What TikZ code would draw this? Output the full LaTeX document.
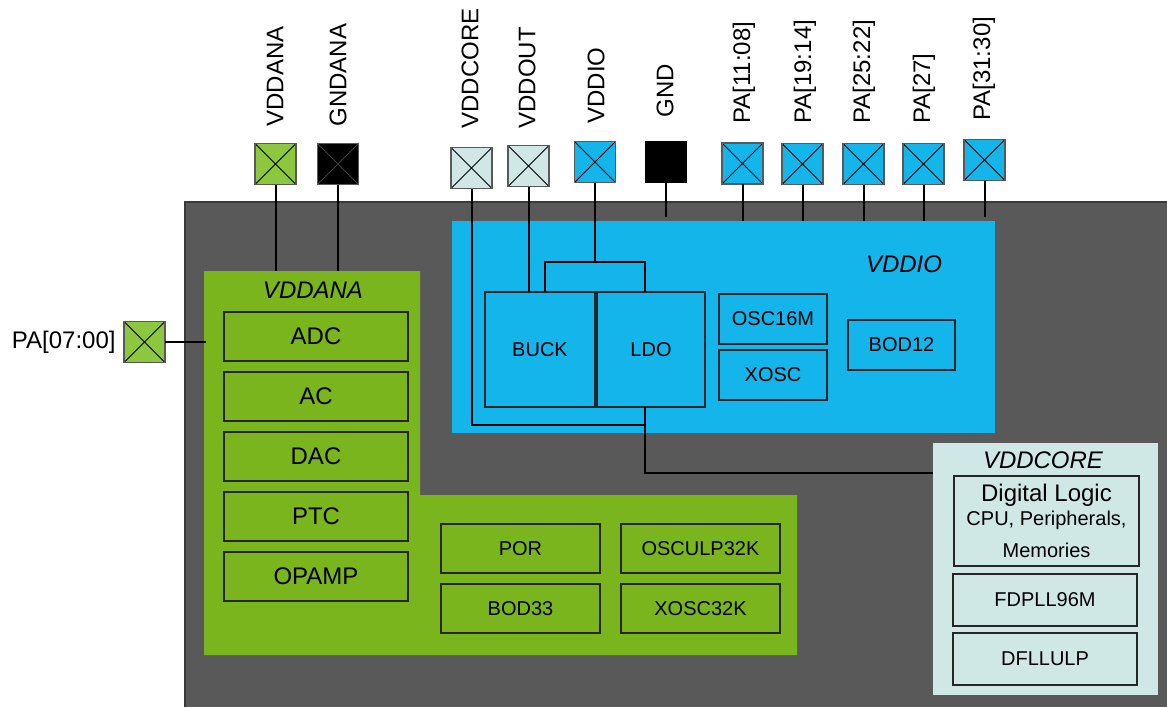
\documentclass[tikz,border=0pt]{standalone}
\usepackage{fontspec}
\setmainfont{Liberation Sans}
\usepackage{tikz}
\usetikzlibrary{positioning}

\definecolor{diegray}{HTML}{595959}
\definecolor{dieedge}{HTML}{3A3A3A}
\definecolor{iofill}{HTML}{13B5EA}
\definecolor{anafill}{HTML}{7AB51D}
\definecolor{anapad}{HTML}{8DC63F}
\definecolor{corefill}{HTML}{CFE8E6}

\newcommand{\bigtxt}{\fontsize{12}{14}\selectfont}
\newcommand{\smalltxt}{\fontsize{10}{12}\selectfont}

\tikzset{
  blk/.style={draw=black!85, line width=0.6pt, inner sep=0pt, outer sep=0pt},
  anablk/.style={blk, minimum width=92pt, minimum height=24.5pt, font=\bigtxt},
  lowblk/.style={blk, minimum width=79.5pt, minimum height=24.5pt, font=\smalltxt},
  ioblk/.style={blk, minimum width=54pt, minimum height=25pt, font=\smalltxt},
  coreblk/.style={blk, minimum width=92pt, minimum height=26pt, font=\smalltxt},
  pad/.style={draw=black!65, line width=0.7pt, fill=#1, minimum size=20.5pt,
    inner sep=0pt, outer sep=0pt,
    path picture={\draw[black, line width=0.4pt]
      (path picture bounding box.south west) -- (path picture bounding box.north east)
      (path picture bounding box.north west) -- (path picture bounding box.south east);}},
  padlbl/.style={rotate=90, anchor=west, inner sep=0pt, font=\bigtxt},
  zonelbl/.style={inner sep=0pt, font=\bigtxt\itshape},
  wire/.style={black, line width=1pt},
}

\begin{document}
\begin{tikzpicture}[x=0.5pt,y=-0.5pt]
\useasboundingbox (0,0) rectangle (1167,707);

    % die and power domains
    \fill[diegray] (185,202) rectangle (1167,707);
    \draw[dieedge, line width=1pt] (185,707) -- (185,202) -- (1167,202);
    \fill[iofill] (452,221) rectangle (995,433);
    \fill[anafill] (204,271) -- (420,271) -- (420,495) -- (797,495)
                -- (797,655) -- (204,655) -- cycle;
    \node[fill=corefill, inner sep=0pt, outer sep=0pt,
          minimum width=112.5pt, minimum height=126pt] (corezone) at (1045.5,569) {};

    \node[zonelbl] (iolbl) at (904,264) {VDDIO};
    \node[zonelbl] (analbl) at (313,290) {VDDANA};
    \node[zonelbl] (corelbl) at (1043,460) {VDDCORE};

    % VDDANA blocks
    \node[anablk] (adc) at (316,336.5) {ADC};
    \node[anablk] (ac) at (316,396.5) {AC};
    \node[anablk] (dac) at (316,456.5) {DAC};
    \node[anablk] (ptc) at (316,516.5) {PTC};
    \node[anablk] (opamp) at (316,576.5) {OPAMP};
    \node[lowblk] (por) at (520.5,548.5) {POR};
    \node[lowblk] (bod33) at (520.5,608.5) {BOD33};
    \node[lowblk] (osculp) at (700.5,548.5) {OSCULP32K};
    \node[lowblk] (xosc32k) at (700.5,608.5) {XOSC32K};

    % VDDIO blocks
    \node[blk, minimum width=55pt, minimum height=57.5pt, font=\smalltxt] (buck) at (540,349.5) {BUCK};
    \node[blk, minimum width=54pt, minimum height=57.5pt, font=\smalltxt] (ldo) at (651,349.5) {LDO};
    \node[ioblk] (osc16m) at (773,319) {OSC16M};
    \node[ioblk] (xosc) at (773,375) {XOSC};
    \node[ioblk, minimum width=53.5pt] (bod12) at (901.5,345) {BOD12};

    % VDDCORE blocks
    \node[blk, minimum width=92.5pt, minimum height=45pt, align=center, font=\smalltxt]
        (logic) at (1046.5,521) {{\bigtxt Digital Logic}\\[0pt]CPU, Peripherals,\\[4pt]Memories};
    \node[coreblk] (fdpll) at (1045,600) {FDPLL96M};
    \node[coreblk] (dfll) at (1045,659) {DFLLULP};

    % pads
    \node[pad=anapad] (vddana) at (275.5,164) {};
    \node[pad=black, path picture={\draw[black!75, line width=0.4pt]
      (path picture bounding box.south west) -- (path picture bounding box.north east)
      (path picture bounding box.north west) -- (path picture bounding box.south east);}]
        (gndana) at (338,164) {};
    \node[pad=corefill] (vddcore) at (471.5,168) {};
    \node[pad=corefill] (vddout) at (528.5,166) {};
    \node[pad=iofill] (vddio) at (595,162) {};
    \node[draw=black, fill=black, minimum size=20.5pt, inner sep=0pt] (gnd) at (665.5,162) {};
    \node[pad=iofill] (pa1108) at (742.5,163.5) {};
    \node[pad=iofill] (pa1914) at (802.5,164) {};
    \node[pad=iofill] (pa2522) at (863.5,164) {};
    \node[pad=iofill] (pa27) at (923.5,164) {};
    \node[pad=iofill] (pa3130) at (984.5,160) {};
    \node[pad=anapad] (pa0700) at (144.5,342) {};

    \node[padlbl] (lblvddana) at (275,127) {VDDANA};
    \node[padlbl] (lblgndana) at (338,127) {GNDANA};
    \node[padlbl] (lblvddcore) at (470,129) {VDDCORE};
    \node[padlbl] (lblvddout) at (527,129) {VDDOUT};
    \node[padlbl] (lblvddio) at (596,124) {VDDIO};
    \node[padlbl] (lblgnd) at (665,118) {GND};
    \node[padlbl] (lbl1108) at (744,124) {PA[11:08]};
    \node[padlbl] (lbl1914) at (805,124) {PA[19:14]};
    \node[padlbl] (lbl2522) at (864,124) {PA[25:22]};
    \node[padlbl] (lbl27) at (924,124) {PA[27]};
    \node[padlbl] (lbl3130) at (984,121) {PA[31:30]};
    \node[inner sep=0pt, font=\bigtxt, left=4pt of pa0700] (lbl0700) {PA[07:00]};

    % wires
    \coordinate (bucktap) at ([xshift=2.5pt]buck.north);
    \coordinate (ldotap) at ([xshift=-3pt]ldo.north);
    \coordinate (ldoout) at ([xshift=-3pt]ldo.south);
    \coordinate (anaedge) at (206,342);

    \draw[wire] (vddana.south) -- (vddana.south |- 0,271);
    \draw[wire] (gndana.south) -- (gndana.south |- 0,271);
    \draw[wire] (pa0700.east) -- (anaedge);
    \draw[wire] (vddout.south) -- (vddout.south |- buck.north);
    \draw[wire] (vddio.south) -- (vddio.south |- 0,262);
    \draw[wire] (bucktap) |- (ldotap |- 0,262) -- (ldotap);
    \draw[wire] (vddcore.south) |- (ldoout |- 0,425);
    \draw[wire] (ldoout) |- (corezone.west |- 0,473);
    \draw[wire] (gnd.south) -- (gnd.south |- 0,217);
    \draw[wire] (pa1108.south) -- (pa1108.south |- 0,221);
    \draw[wire] (pa1914.south) -- (pa1914.south |- 0,221);
    \draw[wire] (pa2522.south) -- (pa2522.south |- 0,221);
    \draw[wire] (pa27.south) -- (pa27.south |- 0,221);
    \draw[wire] (pa3130.south) -- (pa3130.south |- 0,217);
\end{tikzpicture}
\end{document}
